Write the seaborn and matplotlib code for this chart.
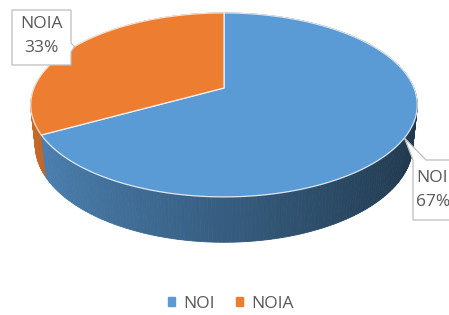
"""
3D pie (Excel style) NOI / NOIA with callout labels.
"""

import numpy as np
import matplotlib.pyplot as plt
import matplotlib.patches as mpatches
import seaborn as sns

# ─── Data ─────────────────────────────────────────────────────────────────────
labels = ["NOI", "NOIA"]
values = [67, 33]
colors = sns.color_palette(["#5B9BD5", "#ED7D31"])

sns.set_theme(style="white")
plt.rcParams["font.family"] = ["Open Sans", "DejaVu Sans"]

# ─── Projection of the tilted disc (pixel units) ─────────────────────────────
CX, CY = 224, 88          # projected centre
R = 190                   # disc radius
ELEV = np.radians(27.9)   # tilt
FOC = 914                 # perspective distance
DEPTH = 46                # thickness


def proj(theta, z=0.0):
    x = R * np.cos(theta)
    y = R * np.sin(theta)
    d = y * np.cos(ELEV) - z * np.sin(ELEV)
    yy = y * np.sin(ELEV) + z * np.cos(ELEV)
    s = FOC / (FOC + d)
    return CX + x * s, CY - yy * s


# slice angles: start at 12 o'clock, clockwise
fracs = np.array(values) / sum(values)
starts = np.pi / 2 - np.concatenate([[0], np.cumsum(fracs)[:-1]]) * 2 * np.pi
ends = starts - fracs * 2 * np.pi


def slice_of(theta):
    t = (np.pi / 2 - theta) % (2 * np.pi)
    acc = np.cumsum(fracs) * 2 * np.pi
    return int(np.searchsorted(acc, t))


fig = plt.figure(figsize=(4.49, 3.15), dpi=100)
ax = fig.add_axes([0, 0, 1, 1])
ax.set_xlim(0, 449)
ax.set_ylim(315, 0)
ax.axis("off")

# side wall, far pieces first
step = np.radians(1.0)
thetas = np.arange(0, 2 * np.pi, step)
order = np.argsort(-np.sin(thetas + step / 2))
for i in order:
    t0, t1 = thetas[i], thetas[i] + step
    tm = (t0 + t1) / 2
    base = np.array(colors[slice_of(tm)])
    shade = np.clip(base * (0.60 - 0.25 * np.cos(tm)), 0, 1)
    pts = [proj(t0, 0), proj(t1, 0), proj(t1, -DEPTH), proj(t0, -DEPTH)]
    ax.add_patch(mpatches.Polygon(pts, closed=True, facecolor=shade,
                                  edgecolor=shade, lw=0.6))

# top face
for k in range(len(values)):
    ts = np.linspace(starts[k], ends[k], 200)
    xs, ys = proj(ts, 0)
    pts = [(CX, CY)] + list(zip(xs, ys))
    ax.add_patch(mpatches.Polygon(pts, closed=True, facecolor=colors[k],
                                  edgecolor=(1, 1, 1, 0.8), lw=0.9,
                                  joinstyle="round"))

# ─── Callout labels ──────────────────────────────────────────────────────────
mids = (starts + ends) / 2
box_col = "#BFBFBF"
txt_col = "#595959"

# NOIA (left box)
tx, ty = proj(mids[1], 0)
left_box = [(12, 10), (71, 10), (71, 43), (tx, ty), (71, 52), (71, 65), (12, 65)]
ax.add_patch(mpatches.Polygon(left_box, closed=True, facecolor="white",
                              edgecolor=box_col, lw=0.9, zorder=5))
ax.text(41, 24, labels[1], ha="center", va="center", fontsize=12.5,
        color=txt_col, zorder=6)
ax.text(41, 48, f"{values[1]}%", ha="center", va="center", fontsize=12.5,
        color=txt_col, zorder=6)

# NOI (right box, cut by the edge)
tx, ty = proj(mids[0], 0)
right_box = [(413, 160), (tx, ty), (426, 160), (470, 160), (470, 220), (413, 220)]
ax.add_patch(mpatches.Polygon(right_box, closed=True, facecolor="white",
                              edgecolor=box_col, lw=0.9, zorder=5))
ax.text(416, 178, labels[0], ha="left", va="center", fontsize=12.5,
        color=txt_col, zorder=6)
ax.text(416, 202, f"{values[0]}%", ha="left", va="center", fontsize=12.5,
        color=txt_col, zorder=6)

# ─── Legend ───────────────────────────────────────────────────────────────────
handles = [mpatches.Patch(color=c, label=l) for c, l in zip(colors, labels)]
fig.legend(handles=handles, loc="center", bbox_to_anchor=(231 / 449, 1 - 304 / 315),
           ncol=2, frameon=False, fontsize=12.5, handlelength=0.4, handleheight=0.4,
           handletextpad=0.5, columnspacing=1.2, labelcolor=txt_col,
           borderpad=0.1)

fig.savefig("out.png", dpi=100)
